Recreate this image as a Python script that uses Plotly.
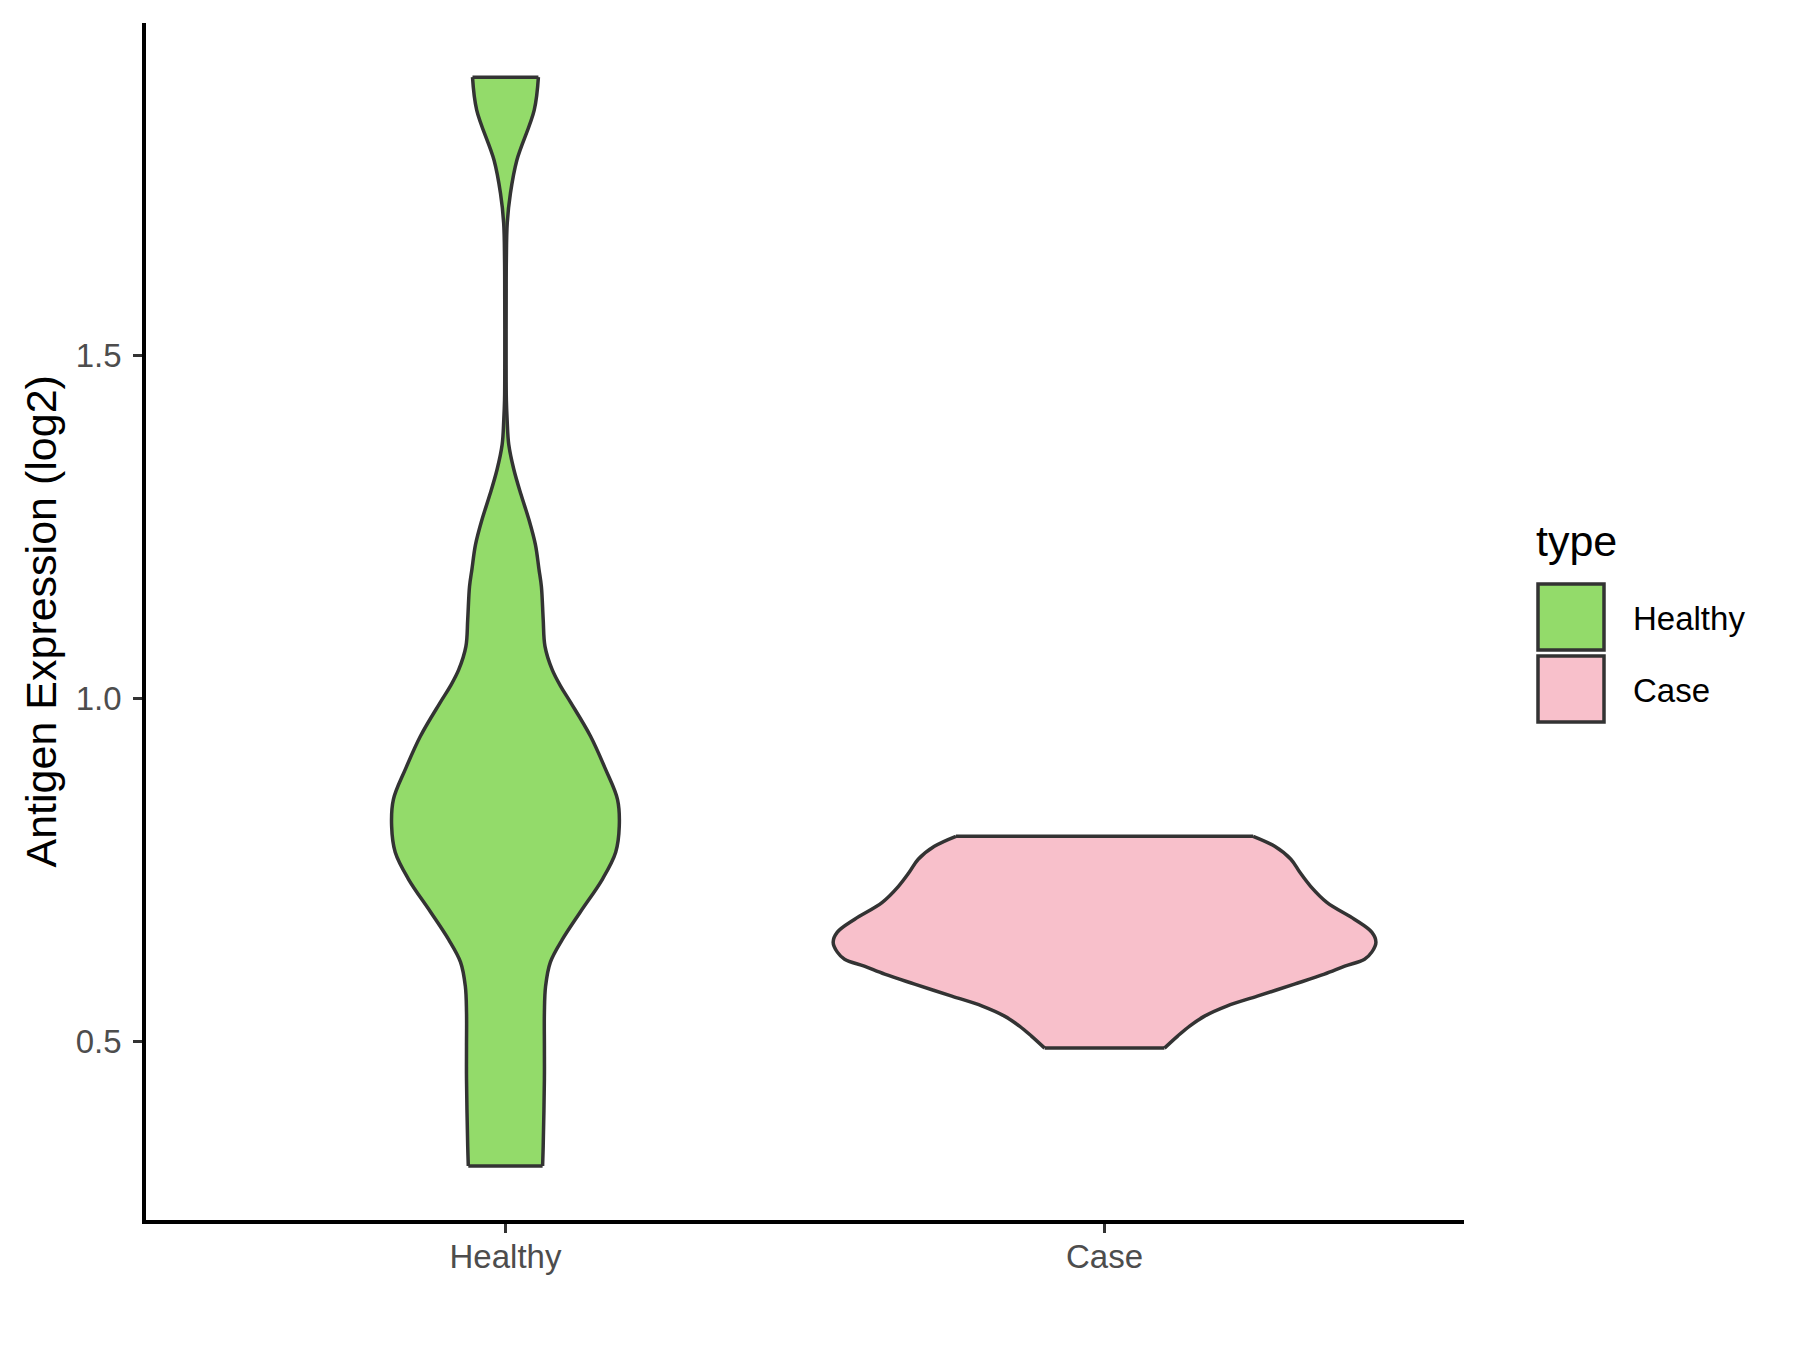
import plotly.graph_objects as go

# ---- data (violin outlines: level -> half width) ----
categories = ["Healthy", "Case"]
category_pos = [1, 2]
colors = ["#93DB6A", "#F8C0CB"]

healthy_y = [1.905, 1.857, 1.784, 1.736, 1.693, 1.639, 1.581, 1.494, 1.435, 1.406,
             1.370, 1.334, 1.297, 1.261, 1.224, 1.188, 1.163, 1.115, 1.076, 1.042,
             1.018, 0.994, 0.945, 0.897, 0.853, 0.814, 0.776, 0.737, 0.689, 0.649,
             0.616, 0.581, 0.543, 0.494, 0.446, 0.348, 0.319]
healthy_halfwidth = [0.055, 0.048, 0.019, 0.0083, 0.003, 0.0015, 0.0012, 0.0011, 0.0015, 0.0028,
                     0.0055, 0.0139, 0.026, 0.039, 0.050, 0.056, 0.060, 0.063, 0.066, 0.078,
                     0.092, 0.109, 0.142, 0.167, 0.187, 0.190, 0.184, 0.162, 0.125, 0.095,
                     0.075, 0.067, 0.065, 0.065, 0.065, 0.063, 0.062]

case_y = [0.7993, 0.7847, 0.7658, 0.7468, 0.7264, 0.7031, 0.6785, 0.6596, 0.6450, 0.6305,
          0.6202, 0.6100, 0.5984, 0.5839, 0.5664, 0.5519, 0.5373, 0.5228, 0.5082, 0.4907]
case_halfwidth = [0.248, 0.284, 0.311, 0.326, 0.344, 0.371, 0.417, 0.446, 0.453, 0.446,
                  0.434, 0.401, 0.367, 0.317, 0.255, 0.204, 0.167, 0.142, 0.122, 0.100]

yticks = [0.5, 1.0, 1.5]
yticklabels = ["0.5", "1.0", "1.5"]

FONT = "Liberation Sans, Arial, Helvetica, sans-serif"
OUTLINE = "#333333"
LW = 3.5
SMOOTH = 1.0

fig = go.Figure()


def add_violin(center, ys, ws, color, name):
    right_x = [center + w for w in ws]
    left_x = [center - w for w in ws]
    # fill: area between the right and left (smoothed) sides
    fig.add_trace(go.Scatter(x=right_x, y=ys, mode="lines",
                             line=dict(width=0, shape="spline", smoothing=SMOOTH),
                             showlegend=False, hoverinfo="skip"))
    fig.add_trace(go.Scatter(x=left_x, y=ys, mode="lines", fill="tonextx", fillcolor=color,
                             line=dict(width=0, shape="spline", smoothing=SMOOTH),
                             name=name, showlegend=False, hoverinfo="skip"))


def add_outline(center, ys, ws):
    right_x = [center + w for w in ws]
    left_x = [center - w for w in ws]
    for xs in (right_x, left_x):
        fig.add_trace(go.Scatter(x=xs, y=ys, mode="lines",
                                 line=dict(color=OUTLINE, width=LW, shape="spline", smoothing=SMOOTH),
                                 showlegend=False, hoverinfo="skip"))
    # flat (trimmed) top and bottom edges
    fig.add_trace(go.Scatter(x=[left_x[0], right_x[0], None, left_x[-1], right_x[-1]],
                             y=[ys[0], ys[0], None, ys[-1], ys[-1]], mode="lines",
                             line=dict(color=OUTLINE, width=LW),
                             showlegend=False, hoverinfo="skip"))


add_violin(category_pos[0], healthy_y, healthy_halfwidth, colors[0], categories[0])
add_violin(category_pos[1], case_y, case_halfwidth, colors[1], categories[1])
add_outline(category_pos[0], healthy_y, healthy_halfwidth)
add_outline(category_pos[1], case_y, case_halfwidth)

# ---- layout geometry (pixels); the page body adds an 8 px offset ----
OFF = 8
W, H = 1800 - 2 * OFF, 1350 - 2 * OFF
L, T = 146 - OFF, 23 - OFF
pw, ph = 1318, 1197
R, B = W - L - pw, H - T - ph


def px(xp):
    return (xp - OFF - L) / pw


def py(yp):
    return (T + ph - (yp - OFF)) / ph


fig.update_layout(
    width=W, height=H, autosize=False,
    margin=dict(l=L, r=R, t=T, b=B, pad=0),
    paper_bgcolor="white", plot_bgcolor="white",
    font=dict(family=FONT),
    showlegend=False,
    xaxis=dict(range=[0.4, 2.6], tickvals=category_pos, ticktext=categories,
               showgrid=False, zeroline=False, showline=True, linecolor="black",
               linewidth=3.5, ticks="outside", ticklen=9, tickwidth=2.5, tickcolor=OUTLINE,
               tickfont=dict(size=33, color="#4D4D4D", family=FONT), ticklabelstandoff=-4),
    yaxis=dict(range=[0.2403, 1.984], tickvals=yticks, ticktext=yticklabels,
               showgrid=False, zeroline=False, showline=True, linecolor="black",
               linewidth=3.5, ticks="outside", ticklen=9, tickwidth=2.5, tickcolor=OUTLINE,
               tickfont=dict(size=33, color="#4D4D4D", family=FONT), ticklabelstandoff=5),
)

# y-axis title
fig.add_annotation(text="Antigen Expression (log2)", textangle=-90,
                   x=px(40), y=0.5, xref="paper", yref="paper",
                   xanchor="center", yanchor="middle", showarrow=False,
                   font=dict(size=43, color="black", family=FONT))

# ---- custom legend ----
fig.add_annotation(text="type", x=px(1534), y=py(541), xref="paper", yref="paper",
                   xanchor="left", yanchor="middle", showarrow=False,
                   font=dict(size=43, color="black", family=FONT))
key_tops = [584, 656]
for name, col, top in zip(categories, colors, key_tops):
    fig.add_shape(type="rect", xref="paper", yref="paper",
                  x0=px(1538), x1=px(1604), y0=py(top), y1=py(top + 66),
                  fillcolor=col, line=dict(color=OUTLINE, width=3.5))
    fig.add_annotation(text=name, x=px(1631), y=py(top + 34), xref="paper", yref="paper",
                       xanchor="left", yanchor="middle", showarrow=False,
                       font=dict(size=33, color="black", family=FONT))

fig.write_html("out.html")
